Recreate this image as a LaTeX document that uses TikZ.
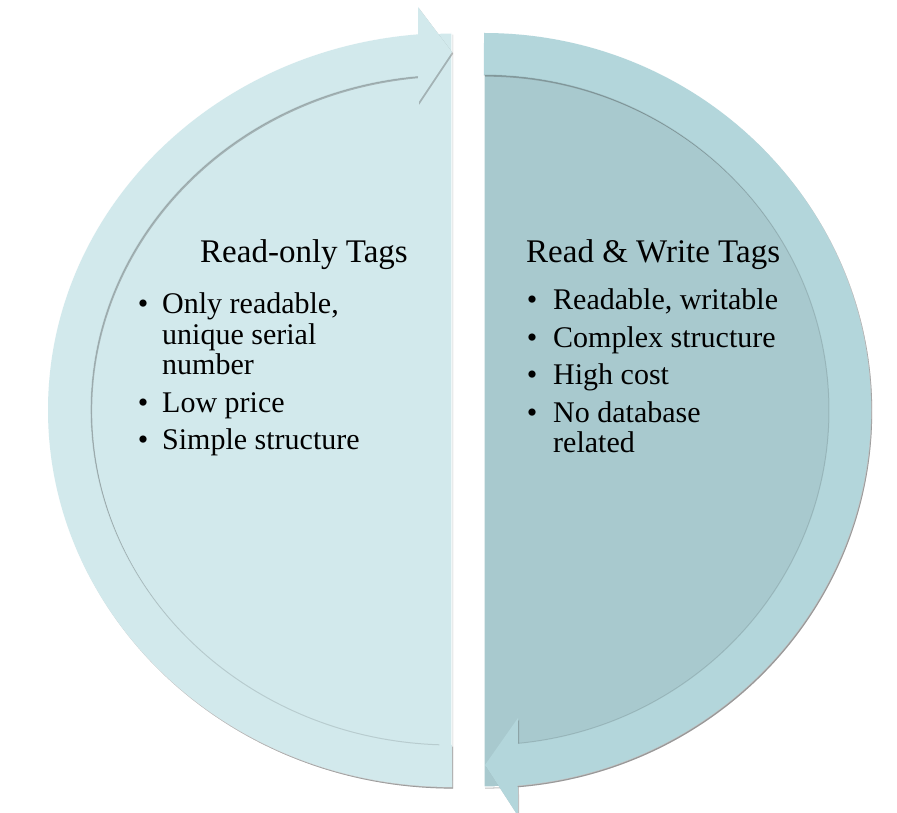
\documentclass[tikz,border=0pt]{standalone}
\usepackage{fontspec}
\setmainfont{Liberation Serif}
\usetikzlibrary{shadows,calc}
\definecolor{lightfill}{RGB}{210,233,236}
\definecolor{bandR}{RGB}{179,214,219}
\definecolor{innerR}{RGB}{168,201,206}
\begin{document}
\begin{tikzpicture}[x=1pt,y=1pt,
  halfshape/.style={draw=white,line width=1.2pt,
    drop shadow={shadow xshift=1.2pt,shadow yshift=-1.6pt,opacity=0.35,fill=black!70}},
  bandshape/.style={
    drop shadow={shadow xshift=1.2pt,shadow yshift=-1.6pt,opacity=0.35,fill=black!70}},
  edgeline/.style={draw=black,opacity=0.12,line width=1pt},
  title/.style={font=\fontsize{33}{36}\selectfont,inner sep=0pt,anchor=base west},
  item/.style={font=\fontsize{30}{32}\selectfont,inner sep=0pt,anchor=base west},
  bul/.style={font=\fontsize{30}{32}\selectfont,inner sep=0pt,anchor=base}]
\useasboundingbox (0,0) rectangle (897,812);
% left half
\path[halfshape,fill=lightfill] (452,25) arc[start angle=270,end angle=90,x radius=404,y radius=377] -- cycle;
\path[bandshape,fill=lightfill] (452,25) arc[start angle=270,end angle=94.8,x radius=404,y radius=377]
  -- (418,805) -- (452,760) -- (418,709) -- (418,735.5)
  arc[start angle=95.4,end angle=270,x radius=361,y radius=335] -- cycle;
\path[edgeline] (418,735.5) arc[start angle=95.4,end angle=268,x radius=361,y radius=335];
% right half
\path[halfshape,fill=innerR] (484,779) arc[start angle=90,end angle=-90,x radius=387,y radius=377] -- cycle;
\path[bandshape,fill=bandR] (484,779) arc[start angle=90,end angle=-85,x radius=387,y radius=377]
  -- (518,-4) -- (485,47) -- (518,94) -- (518,68.6)
  arc[start angle=-84.34,end angle=90,x radius=345,y radius=335] -- cycle;
\path[edgeline] (518,68.6) arc[start angle=-84.34,end angle=90,x radius=345,y radius=335];
% left text
\node[title] (lt) at (200,549) {Read-only Tags};
\node[bul] (lb1) at (143,498) {•};
\node[item] (l1a) at (162,498) {Only readable,};
\node[item] (l1b) at (162,467) {unique serial};
\node[item] (l1c) at (162,437) {number};
\node[bul] (lb2) at (143,399) {•};
\node[item] (l2) at (162,399) {Low price};
\node[bul] (lb3) at (143,362) {•};
\node[item] (l3) at (162,362) {Simple structure};
% right text
\node[title] (rt) at (526,549) {Read \& Write Tags};
\node[bul] (rb1) at (532,502) {•};
\node[item] (r1) at (553,502) {Readable, writable};
\node[bul] (rb2) at (532,464) {•};
\node[item] (r2) at (553,464) {Complex structure};
\node[bul] (rb3) at (532,427) {•};
\node[item] (r3) at (553,427) {High cost};
\node[bul] (rb4) at (532,389) {•};
\node[item] (r4a) at (553,389) {No database};
\node[item] (r4b) at (553,359) {related};
\end{tikzpicture}
\end{document}
